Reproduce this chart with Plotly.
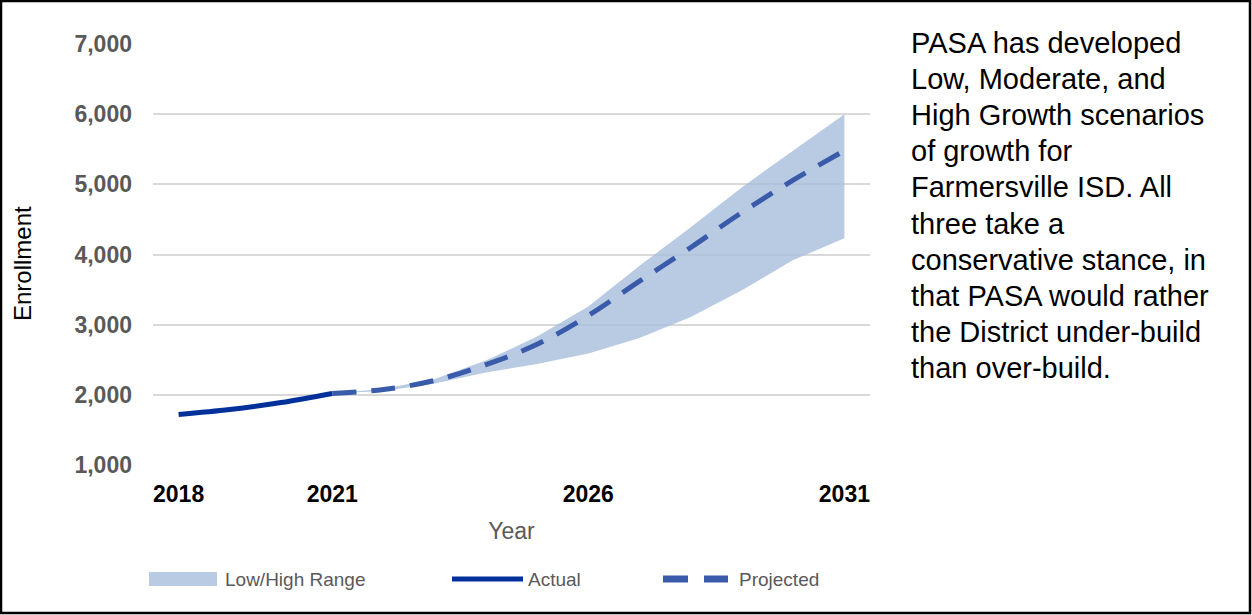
import plotly.graph_objects as go

actual_years = [2018, 2019, 2020, 2021]
actual_values = [1720, 1790, 1890, 2020]

proj_years = [2021, 2022, 2023, 2024, 2025, 2026, 2027, 2028, 2029, 2030, 2031]
projected_values = [2020, 2075, 2205, 2430, 2720, 3130, 3620, 4100, 4600, 5060, 5480]
high_values = [2020, 2085, 2225, 2490, 2830, 3260, 3840, 4390, 4960, 5480, 6000]
low_values = [2020, 2055, 2160, 2320, 2440, 2590, 2810, 3110, 3490, 3920, 4230]

x_ticks = [2018, 2021, 2026, 2031]
y_ticks = [1000, 2000, 3000, 4000, 5000, 6000, 7000]
y_tick_labels = ["1,000", "2,000", "3,000", "4,000", "5,000", "6,000", "7,000"]

side_lines = ["PASA has developed", "Low, Moderate, and", "High Growth scenarios", "of growth for",
              "Farmersville ISD. All", "three take a", "conservative stance, in", "that PASA would rather",
              "the District under-build", "than over-build."]

legend_labels = ["Low/High Range", "Actual", "Projected"]

FILL = "rgba(168,189,220,0.8)"
ACTUAL = "#00309A"
PROJ = "#3A5BAA"
FONT = "Liberation Sans"

fig = go.Figure()
fig.add_trace(go.Scatter(x=proj_years, y=low_values, mode="lines", line=dict(width=0),
                         showlegend=False, hoverinfo="skip"))
fig.add_trace(go.Scatter(x=proj_years, y=high_values, mode="lines", line=dict(width=0),
                         fill="tonexty", fillcolor=FILL, name=legend_labels[0], showlegend=False))
fig.add_trace(go.Scatter(x=actual_years, y=actual_values, mode="lines",
                         line=dict(color=ACTUAL, width=5, shape="spline"), name=legend_labels[1],
                         showlegend=False))
fig.add_trace(go.Scatter(x=proj_years, y=projected_values, mode="lines",
                         line=dict(color=PROJ, width=5, dash="24px,15px", shape="spline"),
                         name=legend_labels[2], showlegend=False))

fig.update_layout(
    width=1252, height=615,
    margin=dict(l=153, r=382, t=44, b=150),
    paper_bgcolor="white", plot_bgcolor="white",
    font=dict(family=FONT),
    xaxis=dict(range=[2017.5, 2031.5], tickvals=x_ticks, ticktext=[f"<b>{v}</b>" for v in x_ticks],
               tickfont=dict(size=23, color="black"), showgrid=False, zeroline=False, showline=False,
               ticks="", ticklabelstandoff=13,
               title=dict(text="Year", font=dict(size=23, color="#595959"), standoff=16)),
    yaxis=dict(range=[1000, 7000], tickvals=y_ticks, ticktext=[f"<b>{t}</b>" for t in y_tick_labels],
               tickfont=dict(size=23, color="#595959"), showgrid=True, gridcolor="#D9D9D9", gridwidth=1.5,
               zeroline=False, showline=False, ticks="", ticklabelstandoff=20),
)

def px(xp):
    return (xp - 153) / 717

def py(yp):
    return (465 - yp) / 421

# y-axis title
fig.add_annotation(xref="paper", yref="paper", x=px(22), y=py(264), xanchor="center", yanchor="middle",
                   text="Enrollment", textangle=-90, showarrow=False,
                   font=dict(family=FONT, size=24, color="black"))

# side text, one annotation per line for exact spacing
for i, line in enumerate(side_lines):
    fig.add_annotation(xref="paper", yref="paper", x=px(909), y=py(43 + 36.1 * i), xanchor="left",
                       yanchor="middle", text=line, showarrow=False, align="left",
                       font=dict(family=FONT, size=29, color="black"))

# manual legend (paper coordinates)
ly = 579
fig.add_shape(type="rect", xref="paper", yref="paper", x0=px(149), x1=px(217), y0=py(ly + 7), y1=py(ly - 7),
              fillcolor=FILL, line=dict(width=0))
fig.add_shape(type="line", xref="paper", yref="paper", x0=px(452), x1=px(523), y0=py(ly), y1=py(ly),
              line=dict(color=ACTUAL, width=5))
fig.add_shape(type="line", xref="paper", yref="paper", x0=px(663), x1=px(688), y0=py(ly), y1=py(ly),
              line=dict(color=PROJ, width=7))
fig.add_shape(type="line", xref="paper", yref="paper", x0=px(704), x1=px(728), y0=py(ly), y1=py(ly),
              line=dict(color=PROJ, width=7))
for xp, label in zip([223, 526, 737], legend_labels):
    fig.add_annotation(xref="paper", yref="paper", x=px(xp), y=py(ly), xanchor="left", yanchor="middle",
                       text=label, showarrow=False, font=dict(family=FONT, size=19, color="#595959"))

# outer border
fig.add_shape(type="rect", xref="paper", yref="paper", x0=px(1), x1=px(1250), y0=py(613), y1=py(1),
              line=dict(color="black", width=2.5), fillcolor="rgba(0,0,0,0)", layer="above")

fig.write_html("out.html", config={"displayModeBar": False},
               post_script="document.body.style.margin='0';document.documentElement.style.overflow='hidden';")
